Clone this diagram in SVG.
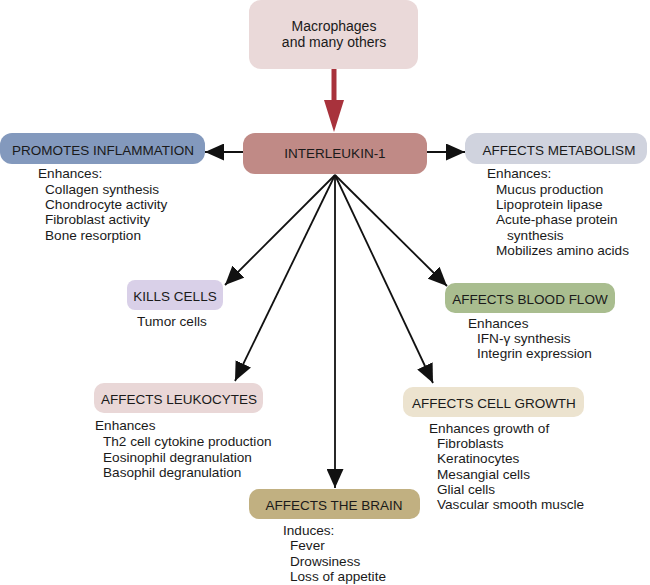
<svg xmlns="http://www.w3.org/2000/svg" width="650" height="585" viewBox="0 0 650 585">
<style>
text{font-family:"Liberation Sans",Arial,sans-serif;fill:#1a1a1a}
.t{font-size:13.5px;text-anchor:middle}
.m{font-size:14px;text-anchor:middle}
.b{font-size:13.6px}
.ln{stroke:#111;stroke-width:1.8;fill:none}
</style>
<defs>
<marker id="ah" viewBox="0 0 19 17" refX="19" refY="8.5" markerWidth="19" markerHeight="17" markerUnits="userSpaceOnUse" orient="auto">
<path d="M0,0 L19,8.5 L0,17 Z" fill="#111"/>
</marker>
</defs>
<rect width="650" height="585" fill="#fff"/>
<g id="connectors">
<line x1="334" y1="69" x2="334" y2="102" stroke="#a8323c" stroke-width="5"/>
<path d="M324,100 L344,100 L334,132 Z" fill="#a8323c"/>
<line class="ln" x1="243" y1="152" x2="205" y2="152" marker-end="url(#ah)"/>
<line class="ln" x1="427" y1="152" x2="465" y2="152" marker-end="url(#ah)"/>
<line class="ln" x1="335" y1="175" x2="225" y2="285" marker-end="url(#ah)"/>
<line class="ln" x1="335" y1="175" x2="235" y2="381" marker-end="url(#ah)"/>
<line class="ln" x1="335" y1="175" x2="335" y2="488" marker-end="url(#ah)"/>
<line class="ln" x1="335" y1="175" x2="433" y2="383" marker-end="url(#ah)"/>
<line class="ln" x1="335" y1="175" x2="447" y2="286" marker-end="url(#ah)"/>
</g>
<g id="macrophages">
<rect x="249" y="0" width="169" height="69" rx="12" fill="#ead9d9"/>
<text class="m" x="334" y="31">Macrophages</text>
<text class="m" x="334" y="47">and many others</text>
</g>
<g id="interleukin">
<rect x="243" y="133" width="184" height="41" rx="12" fill="#c08a86"/>
<text class="t" x="335" y="158">INTERLEUKIN-1</text>
</g>
<g id="inflammation">
<rect x="0" y="133" width="205" height="31" rx="12" fill="#8399bd"/>
<text class="t" x="103" y="155">PROMOTES INFLAMMATION</text>
<text class="b" x="38" y="178">Enhances:</text>
<text class="b" x="45" y="194">Collagen synthesis</text>
<text class="b" x="45" y="209">Chondrocyte activity</text>
<text class="b" x="45" y="224">Fibroblast activity</text>
<text class="b" x="45" y="240">Bone resorption</text>
</g>
<g id="metabolism">
<rect x="465" y="133" width="182" height="31" rx="12" fill="#d0d3de"/>
<text class="t" x="559" y="155">AFFECTS METABOLISM</text>
<text class="b" x="487" y="178">Enhances:</text>
<text class="b" x="496" y="194">Mucus production</text>
<text class="b" x="496" y="209">Lipoprotein lipase</text>
<text class="b" x="496" y="224">Acute-phase protein</text>
<text class="b" x="507" y="240">synthesis</text>
<text class="b" x="496" y="255">Mobilizes amino acids</text>
</g>
<g id="kills">
<rect x="127" y="280" width="96" height="30" rx="8" fill="#d9d0e8"/>
<text class="t" x="175" y="301">KILLS CELLS</text>
<text class="b" x="137" y="326">Tumor cells</text>
</g>
<g id="bloodflow">
<rect x="445" y="283" width="170" height="30" rx="10" fill="#a9bd8f"/>
<text class="t" x="530" y="304">AFFECTS BLOOD FLOW</text>
<text class="b" x="468" y="328">Enhances</text>
<text class="b" x="477" y="343">IFN-γ synthesis</text>
<text class="b" x="477" y="358">Integrin expression</text>
</g>
<g id="leukocytes">
<rect x="94" y="383" width="169" height="30" rx="10" fill="#e9d7d7"/>
<text class="t" x="179" y="404">AFFECTS LEUKOCYTES</text>
<text class="b" x="95" y="430">Enhances</text>
<text class="b" x="103" y="446">Th2 cell cytokine production</text>
<text class="b" x="103" y="462">Eosinophil degranulation</text>
<text class="b" x="103" y="477">Basophil degranulation</text>
</g>
<g id="cellgrowth">
<rect x="403" y="387" width="181" height="30" rx="10" fill="#ece3cf"/>
<text class="t" x="494" y="408">AFFECTS CELL GROWTH</text>
<text class="b" x="429" y="433">Enhances growth of</text>
<text class="b" x="437" y="448">Fibroblasts</text>
<text class="b" x="437" y="463">Keratinocytes</text>
<text class="b" x="437" y="479">Mesangial cells</text>
<text class="b" x="437" y="494">Glial cells</text>
<text class="b" x="437" y="509">Vascular smooth muscle</text>
</g>
<g id="brain">
<rect x="249" y="489" width="171" height="30" rx="10" fill="#c1b081"/>
<text class="t" x="334" y="510">AFFECTS THE BRAIN</text>
<text class="b" x="283" y="535">Induces:</text>
<text class="b" x="290" y="550">Fever</text>
<text class="b" x="290" y="566">Drowsiness</text>
<text class="b" x="290" y="581">Loss of appetite</text>
</g>
</svg>
